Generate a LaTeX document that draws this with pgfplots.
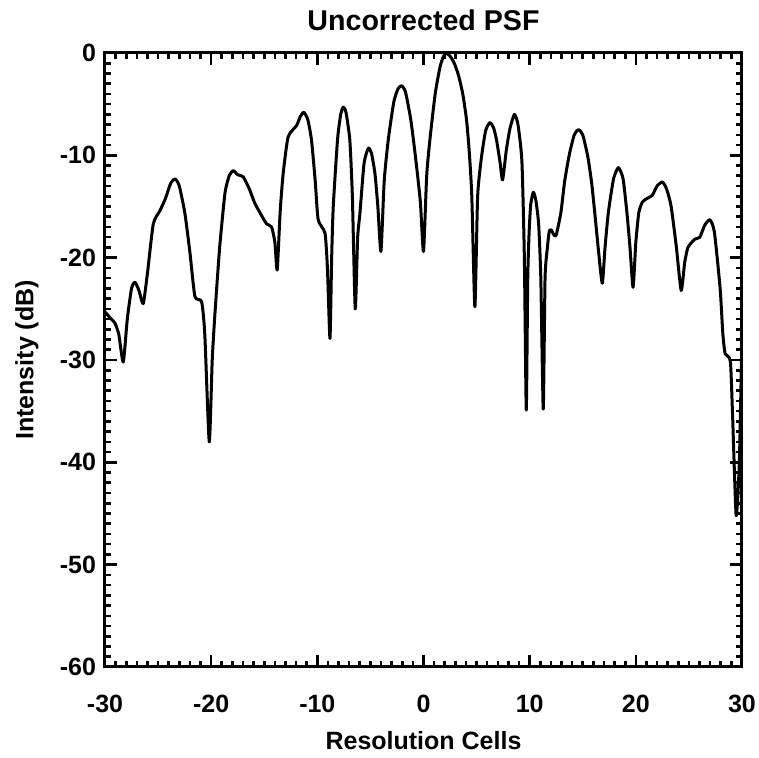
\documentclass[border=0pt]{standalone}
\usepackage{fontspec}
\setmainfont{Liberation Sans}
\usepackage{pgfplots}
\pgfplotsset{compat=1.18}
\pgfplotstableread{
x y
-30.0 -25.3
-29.5 -25.9
-29.06 -26.4
-28.7 -27.5
-28.28 -30.2
-27.9 -26.0
-27.5 -23.0
-27.18 -22.4
-26.8 -23.2
-26.4 -24.5
-26.0 -21.5
-25.45 -16.7
-24.82 -15.4
-24.3 -14.2
-23.8 -12.7
-23.4 -12.3
-23.0 -13.0
-22.47 -15.7
-22.0 -19.5
-21.53 -23.8
-20.9 -24.3
-20.6 -27.5
-20.18 -38.0
-19.9 -30.0
-19.64 -25.4
-19.2 -19.0
-18.7 -13.7
-18.3 -12.0
-17.92 -11.5
-17.5 -11.9
-16.98 -12.1
-16.4 -13.3
-15.88 -14.7
-15.3 -15.8
-14.78 -16.7
-14.31 -17.0
-14.0 -18.5
-13.78 -21.2
-13.5 -15.5
-13.22 -11.8
-12.75 -8.2
-11.96 -7.1
-11.6 -6.2
-11.27 -5.8
-10.9 -6.5
-10.55 -8.5
-10.2 -12.5
-9.92 -16.3
-9.28 -17.6
-9.05 -21.0
-8.81 -27.9
-8.65 -20.0
-8.5 -15.0
-8.1 -8.5
-7.8 -6.0
-7.56 -5.3
-7.3 -5.8
-6.94 -8.5
-6.7 -14.0
-6.43 -25.0
-6.2 -18.0
-5.99 -15.7
-5.6 -10.8
-5.2 -9.3
-4.9 -9.8
-4.57 -11.8
-4.3 -15.0
-4.01 -19.4
-3.7 -12.5
-3.32 -8.5
-2.8 -4.8
-2.4 -3.5
-2.06 -3.2
-1.7 -3.8
-1.2 -6.5
-0.75 -10.2
-0.3 -14.5
0.0 -19.4
0.3 -12.0
0.6 -8.5
1.1 -4.0
1.55 -1.4
1.85 -0.4
2.1 0.0
2.5 -0.3
2.9 -1.0
3.3 -2.2
3.7 -4.0
4.05 -6.5
4.3 -9.5
4.55 -14.0
4.84 -24.8
5.1 -14.0
5.46 -10.2
5.85 -7.6
6.25 -6.8
6.6 -7.3
6.88 -8.5
7.2 -10.6
7.45 -12.4
7.8 -9.5
8.14 -7.4
8.56 -6.0
8.9 -7.0
9.27 -10.6
9.5 -20.0
9.68 -34.9
9.82 -22.0
9.95 -17.5
10.1 -14.8
10.35 -13.6
10.6 -14.5
10.85 -16.8
11.05 -22.0
11.28 -34.8
11.45 -22.0
11.67 -19.0
11.85 -17.4
12.04 -17.3
12.3 -17.8
12.5 -17.8
12.94 -15.6
13.3 -12.5
13.74 -9.9
14.2 -8.0
14.6 -7.5
15.0 -8.0
15.49 -10.2
15.85 -12.8
16.13 -15.6
16.5 -19.5
16.84 -22.5
17.1 -19.0
17.41 -15.6
17.9 -12.3
18.36 -11.2
18.8 -12.3
19.16 -15.6
19.45 -19.0
19.74 -22.9
20.0 -18.5
20.28 -15.6
20.6 -14.6
20.92 -14.3
21.55 -13.9
22.0 -13.0
22.51 -12.6
22.9 -13.3
23.31 -14.9
23.8 -18.8
24.27 -23.2
24.6 -20.5
24.91 -19.0
25.55 -18.2
26.03 -18.0
26.5 -16.8
26.99 -16.3
27.4 -17.5
27.94 -23.0
28.2 -27.5
28.42 -29.4
28.9 -30.1
29.1 -35.0
29.45 -45.2
29.75 -40.0
29.95 -30.0
}\psf
\begin{document}
\begin{tikzpicture}
\begin{axis}[
  scale only axis, width=318.5pt, height=307pt,
  xmin=-30, xmax=30, ymin=-60, ymax=0,
  xtick={-30,-20,...,30}, xticklabels={-30,-20,-10,0,10,20,30},
  ytick={-60,-50,...,0}, yticklabels={-60,-50,-40,-30,-20,-10,0},
  minor x tick num=9, minor y tick num=9,
  tick align=inside, major tick length=6pt, minor tick length=2.8pt,
  every tick/.style={black, line width=1.3pt},
  axis line style={line width=1.5pt},
  tick label style={font=\bfseries\fontsize{12.5}{14}\selectfont},
  xticklabel style={yshift=-10.5pt},
  yticklabel style={xshift=-1pt},
  title={Uncorrected PSF},
  title style={font=\bfseries\fontsize{14.3}{16}\selectfont, at={(axis description cs:0.5,1.034)}, anchor=center, yshift=0pt},
  xlabel={Resolution Cells}, ylabel={Intensity (dB)},
  label style={font=\bfseries\fontsize{12.5}{14}\selectfont},
  xlabel style={at={(axis description cs:0.5,-0.119)}, anchor=center, yshift=0pt},
  ylabel style={at={(axis description cs:-0.1225,0.5)}, anchor=center, xshift=0pt},
]
\addplot[black, line width=1.5pt, line join=round, smooth, tension=0.35] table[x=x,y=y] {\psf};
\coordinate (SW) at (rel axis cs:0,0);
\coordinate (NE) at (rel axis cs:1,1);
\end{axis}
\pgfresetboundingbox
\path[use as bounding box] ([shift={(-52.5pt,-45.5pt)}]SW) rectangle ([shift={(8.5pt,26.5pt)}]NE);
\end{tikzpicture}
\end{document}
